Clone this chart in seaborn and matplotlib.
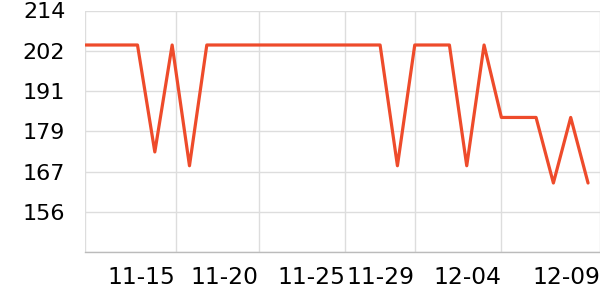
import matplotlib
matplotlib.use("Agg")
import matplotlib.pyplot as plt
import seaborn as sns
import pandas as pd

dates = ["11-10", "11-11", "11-12", "11-13", "11-14", "11-15", "11-16", "11-17",
         "11-18", "11-19", "11-20", "11-21", "11-22", "11-23", "11-24", "11-25",
         "11-26", "11-27", "11-28", "11-29", "11-30", "12-01", "12-02", "12-03",
         "12-04", "12-05", "12-06", "12-07", "12-08", "12-09"]
values = [204, 204, 204, 204, 173, 204, 169, 204, 204, 204, 204, 204, 204, 204,
          204, 204, 204, 204, 169, 204, 204, 204, 169, 204, 183, 183, 183, 164,
          183, 164]
x_tick_labels = ["11-15", "11-20", "11-25", "11-29", "12-04", "12-09"]
y_min, y_max = 144, 214

df = pd.DataFrame({"idx": list(range(len(dates))), "value": values})

sns.set_theme(style="white")
plt.rcParams["font.family"] = ["DejaVu Sans"]

fig = plt.figure(figsize=(6, 3), dpi=100)
ax = fig.add_axes([0.1425, 0.16, 0.8575, 0.805])

sns.lineplot(data=df, x="idx", y="value", ax=ax, color="#EE4B2B", linewidth=2.3)

x_right = 29.69
ax.set_xlim(0, x_right)
ax.set_ylim(y_min, y_max)

step = (y_max - y_min) / 6
yt = [y_min + k * step for k in range(7)]
ax.set_yticks(yt)
ax.set_yticklabels([""] + [f"{round(v)}" for v in yt[1:]], fontsize=16)

tick_pos = [0, 5.2, 10, 15, 19, 24, x_right]
ax.set_xticks(tick_pos)
ax.set_xticklabels([""] + x_tick_labels, fontsize=16.8, ha="right")

ax.grid(True, color="#DDDDDD", linewidth=1)
ax.set_axisbelow(True)
for s in ["top", "right", "left"]:
    ax.spines[s].set_visible(False)
ax.spines["bottom"].set_color("#BBBBBB")
ax.spines["bottom"].set_linewidth(1)

ax.tick_params(axis="x", length=4, color="#DDDDDD", pad=6, labelcolor="black")
ax.tick_params(axis="y", length=0, pad=14.5, labelcolor="black")
ax.set_xlabel("")
ax.set_ylabel("")

fig.savefig("out.png", dpi=100)
